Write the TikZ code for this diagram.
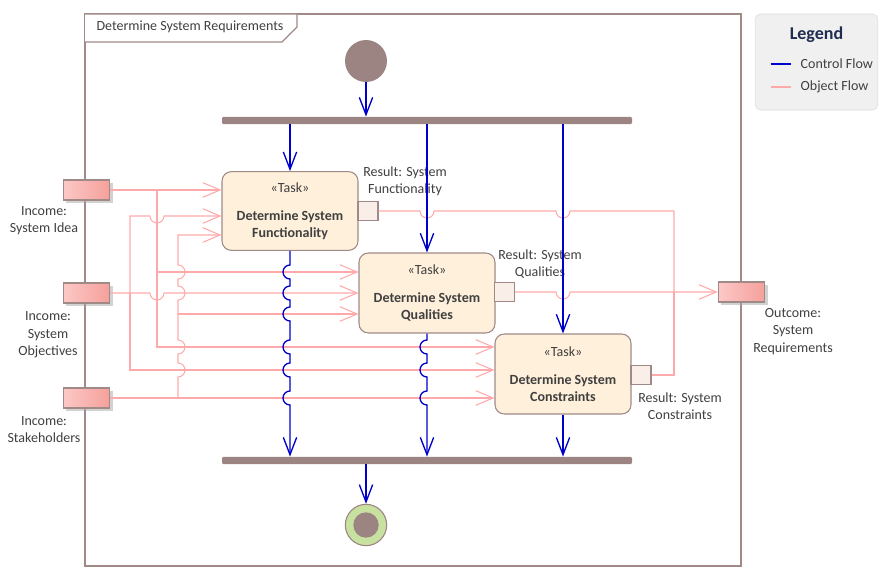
\documentclass[tikz,border=0pt]{standalone}
\usepackage{fontspec}
\setmainfont{Carlito}
\usepackage{tikz}
\usetikzlibrary{arrows.meta,positioning,shadows}
\definecolor{mauve}{RGB}{156,132,130}
\definecolor{boxline}{RGB}{160,138,136}
\definecolor{boxfill}{RGB}{254,240,218}
\definecolor{pinfill}{RGB}{250,238,232}
\definecolor{pinl}{RGB}{252,200,198}
\definecolor{pinr}{RGB}{245,160,155}
\definecolor{cblue}{RGB}{0,0,205}
\definecolor{opink}{RGB}{255,170,170}
\definecolor{txt}{RGB}{64,64,64}
\definecolor{navy}{RGB}{31,45,80}
\definecolor{fgreen}{RGB}{200,225,160}
\definecolor{legfill}{RGB}{240,240,240}
\definecolor{legline}{RGB}{218,218,218}
\tikzset{font=\fontsize{10.5}{13}\selectfont}
\tikzstyle{task}=[draw=boxline,fill=boxfill,rounded corners=7pt,minimum width=102pt,minimum height=59pt,align=center,inner sep=0pt,text=txt,line width=0.8pt]
\tikzstyle{outpin}=[draw=boxline,fill=pinfill,minimum width=15pt,minimum height=14.5pt,inner sep=0pt,line width=0.8pt]
\tikzstyle{param}=[draw=boxline,left color=pinl,right color=pinr,minimum width=35pt,minimum height=15pt,inner sep=0pt,line width=0.8pt,drop shadow={shadow xshift=2pt,shadow yshift=-2pt,fill=black!35}]
\tikzstyle{bar}=[fill=mauve,minimum width=307.5pt,minimum height=5.5pt,inner sep=0pt,rounded corners=1pt]
\tikzstyle{lbl}=[align=center,text=txt]
\tikzstyle{cflow}=[draw=cblue,line width=1pt,-{Straight Barb[length=13pt,width=10pt]}]
\tikzstyle{oflow}=[draw=opink,line width=0.8pt]
\tikzstyle{oarr}=[oflow,-{Straight Barb[length=13pt,width=11pt]}]
\begin{document}
\begin{tikzpicture}[x=0.75pt,y=0.75pt]
\useasboundingbox (0,0) rectangle (896,583);
\draw[draw=boxline,line width=1.5pt] (85,17) rectangle (741,569);
\draw[draw=boxline,fill=white,line width=0.8pt] (85,569) -- (297,569) -- (297,556) -- (282,541) -- (85,541);
\node[text=txt] (title) at (190,556) {Determine System Requirements};

\node[draw=legline,fill=legfill,rounded corners=4pt,minimum width=92pt,minimum height=72pt] (leg) at (816.5,521) {};
\node[text=navy,font=\fontsize{13.5}{15}\selectfont\bfseries] (legt) at (816.5,548) {Legend};
\node[text=txt,anchor=west] (lc) at (796,519) {Control Flow};
\node[text=txt,anchor=west] (lo) at (796,496) {Object Flow};
\draw[draw=cblue,line width=1pt] ([xshift=-19pt]lc.west) -- ([xshift=-4pt]lc.west);
\draw[oflow] ([xshift=-19pt]lo.west) -- ([xshift=-4pt]lo.west);

\node[circle,fill=mauve,minimum size=31.5pt,inner sep=0pt] (init) at (366,522) {};
\node[bar] (fork) at (427,462.5) {};
\node[bar] (join) at (427,122.5) {};
\node[circle,draw=mauve,fill=fgreen,minimum size=31pt,inner sep=0pt,line width=0.8pt] (fin) at (366,58) {};
\node[circle,fill=mauve,minimum size=19pt,inner sep=0pt] (fdot) at (fin) {};

\node[task] (t1) at (290,372) {«Task»\\[8pt]\textbf{Determine System}\\\textbf{Functionality}};
\node[task,minimum height=60pt] (t2) at (427,290) {«Task»\\[8pt]\textbf{Determine System}\\\textbf{Qualities}};
\node[task,minimum height=60pt] (t3) at (563,209) {«Task»\\[8pt]\textbf{Determine System}\\\textbf{Constraints}};
\node[outpin] (r1) at (368,372) {};
\node[outpin] (r2) at (504.5,291) {};
\node[outpin] (r3) at (641,208) {};
\node[lbl] (lr1) at (405,401.5) {Result: System\\Functionality};
\node[lbl] (lr2) at (540,319) {Result: System\\Qualities};
\node[lbl] (lr3) at (680,177) {Result: System\\Constraints};

\node[param] (idea) at (86.5,393) {};
\node[param] (obj) at (86.5,290) {};
\node[param] (stake) at (86.5,185) {};
\node[param] (req) at (741.5,291) {};
\node[lbl] (lidea) at (44,362.5) {Income:\\System Idea};
\node[lbl] (lobj) at (48,248) {Income:\\System\\Objectives};
\node[lbl] (lstake) at (44,153.5) {Income:\\Stakeholders};
\node[lbl] (lreq) at (793,251.5) {Outcome:\\System\\Requirements};

\coordinate (bi) at (157,393);
\coordinate (bo) at (130,290);
\coordinate (bs) at (178,185);
\coordinate (bs2) at (178,269);
\coordinate (mg) at (674,291);

\draw[oarr] (idea.east) -- (t1.west |- idea.east);
\draw[oarr] (bi) |- (t2.west |- 0,311);
\draw[oarr] (bi) |- (t3.west |- 0,236);
\draw[oarr] (obj.east) -- (150,290) arc[start angle=180,end angle=360,radius=5.25pt] -- (t2.west |- obj.east);
\draw[oarr] (bo) -- (130,367) -- (150,367) arc[start angle=180,end angle=360,radius=5.25pt] -- (t1.west |- 0,367);
\draw[oarr] (bo) |- (t3.west |- 0,213);
\draw[oarr] (stake.east) -- (t3.west |- stake.east);
\draw[oarr] (bs) \foreach \h in {213,236,290,311} {-- (178,{\h-7}) arc[start angle=-90,end angle=90,radius=5.25pt]} -- (178,348) -- (t1.west |- 0,348);
\draw[oarr] (bs2) -- (t2.west |- bs2);

\draw[oflow] (r1.east) -- (420,372) arc[start angle=180,end angle=360,radius=5.25pt] -- (556,372) arc[start angle=180,end angle=360,radius=5.25pt] -| (mg);
\draw[oarr] (r2.east) -- (556,291) arc[start angle=180,end angle=360,radius=5.25pt] -- (req.west);
\draw[oflow] (r3.east) -| (mg);

\draw[cflow] (init) -- (init |- fork.north);
\draw[cflow] (fork.south -| t1.north) -- (t1.north);
\draw[cflow] (fork.south -| t2.north) -- (t2.north);
\draw[cflow] (fork.south -| t3.north) -- (t3.north);
\draw[cflow] (t1.south) \foreach \h in {311,290,269,236,213,185} {-- (290,{\h+7}) arc[start angle=90,end angle=270,radius=5.25pt]} -- (t1.south |- join.north);
\draw[cflow] (t2.south) \foreach \h in {236,213,185} {-- (427,{\h+7}) arc[start angle=90,end angle=270,radius=5.25pt]} -- (t2.south |- join.north);
\draw[cflow] (t3.south) -- (t3.south |- join.north);
\draw[cflow] (join.south -| fin.north) -- (fin.north);
\end{tikzpicture}
\end{document}
